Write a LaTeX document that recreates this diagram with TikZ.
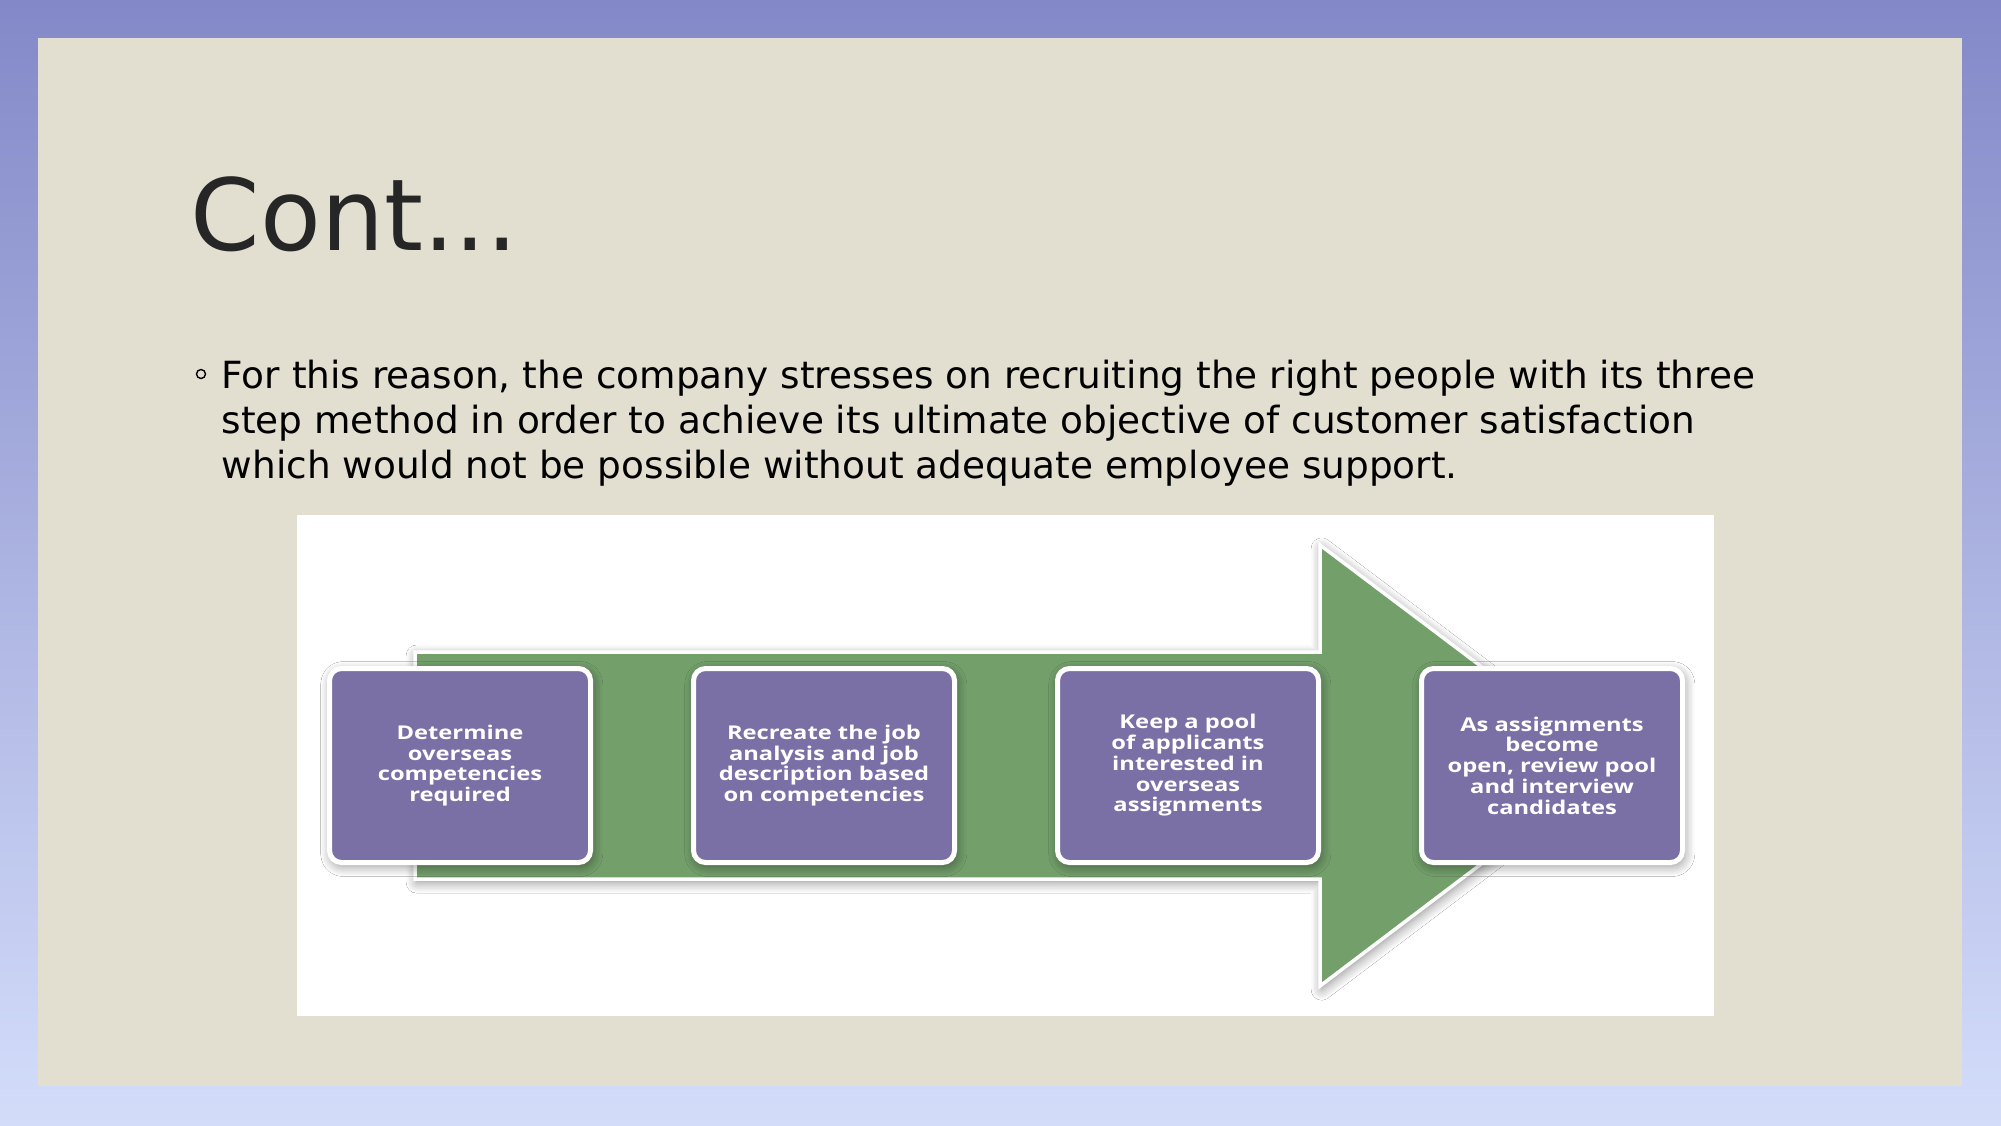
\documentclass[tikz,border=0pt]{standalone}
\usepackage{fontspec}
\setmainfont{DejaVu Sans}
\newfontfamily\boxfont[FakeStretch=1.25]{Open Sans}
\usepackage{tikz}
\usetikzlibrary{positioning,shadows.blur}

\definecolor{bgtop}{RGB}{131,137,200}
\definecolor{bgbot}{RGB}{211,221,250}
\definecolor{slide}{RGB}{226,223,208}
\definecolor{stepfill}{RGB}{122,112,166}
\definecolor{flowgreen}{RGB}{115,159,107}
\definecolor{titlegray}{RGB}{38,38,38}

\begin{document}
\begin{tikzpicture}[
  node distance=0.98cm,
  glow/.style={blur shadow={shadow xshift=0.5pt, shadow yshift=-1pt, shadow blur radius=3pt, shadow blur steps=8, shadow opacity=45}},
  stepbox/.style={draw=white, line width=0.05cm, rounded corners=0.12cm, fill=stepfill, glow,
    minimum width=2.61cm, minimum height=1.94cm, align=center, text=white,
    font=\boxfont\bfseries\fontsize{5.4pt}{5.9pt}\selectfont},
  flow/.style={draw=white, line width=0.035cm, fill=flowgreen, glow}]
\useasboundingbox (0,0) rectangle (20.01,-11.25);
% slide background
\fill[top color=bgtop, bottom color=bgbot] (0,0) rectangle (20.01,-11.25);
\fill[slide] (0.38,-0.38) rectangle (19.62,-10.86);
\node[anchor=base west, inner sep=0, text=titlegray, font=\fontsize{28.3pt}{34pt}\selectfont] (title) at (1.90,-2.50) {Cont...};
\node[circle, draw, inner sep=0, minimum size=0.09cm, line width=0.4pt] (bullet) at (2.01,-3.74) {};
\node[anchor=base west, inner sep=0, align=left, font=\fontsize{10.65pt}{12.8pt}\selectfont] (para) at (2.21,-4.78)
  {For this reason, the company stresses on recruiting the right people with its three\\
   step method in order to achieve its ultimate objective of customer satisfaction\\
   which would not be possible without adequate employee support.};
% picture panel
\fill[white] (2.97,-5.15) rectangle (17.14,-10.16);
% big green arrow behind the steps
\draw[flow] (4.15,-6.52) -- (13.20,-6.52) -- (13.20,-5.45) -- (16.12,-7.65)
  -- (13.20,-9.86) -- (13.20,-8.79) -- (4.15,-8.79) -- cycle;
% steps
\node[stepbox] (s1) at (4.60,-7.655) {Determine\\overseas\\competencies\\required};
\node[stepbox, right=of s1] (s2) {Recreate the job\\analysis and job\\description based\\on competencies};
\node[stepbox, right=of s2] (s3) {Keep a pool\\of applicants\\interested in\\overseas\\assignments};
\node[stepbox, right=of s3] (s4) {As assignments\\become\\open, review pool\\and interview\\candidates};
\end{tikzpicture}
\end{document}
